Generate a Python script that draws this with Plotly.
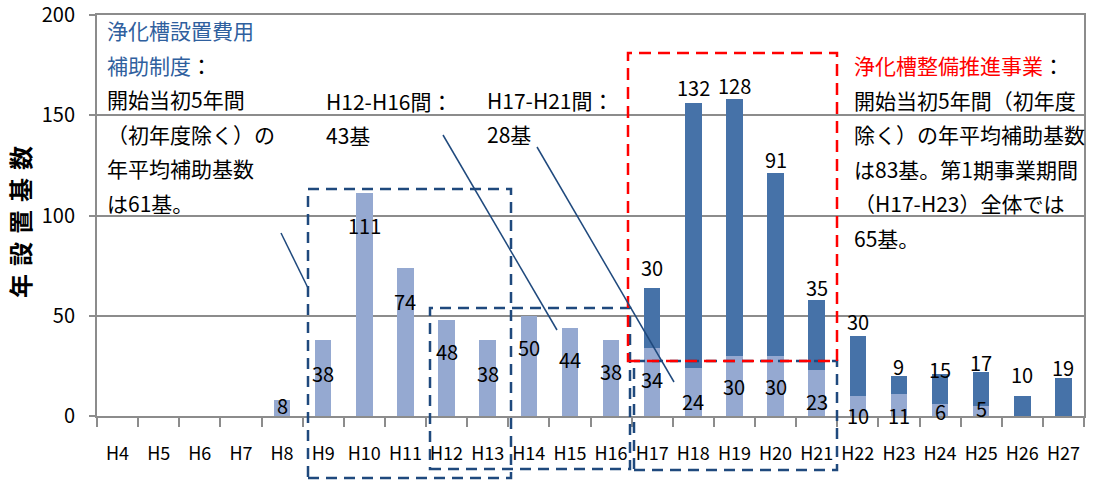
import plotly.graph_objects as go

# ---------------- data ----------------
years = ["H4", "H5", "H6", "H7", "H8", "H9", "H10", "H11", "H12", "H13", "H14", "H15",
         "H16", "H17", "H18", "H19", "H20", "H21", "H22", "H23", "H24", "H25", "H26", "H27"]
# 浄化槽設置費用補助制度 (light)
old_program = [None, None, None, None, 8, 38, 111, 74, 48, 38, 50, 44,
               38, 34, 24, 30, 30, 23, 10, 11, 6, 5, None, None]
# 浄化槽整備推進事業 (dark)
new_program = [None, None, None, None, None, None, None, None, None, None, None, None,
               None, 30, 132, 128, 91, 35, 30, 9, 15, 17, 10, 19]

# label placements (data units, as hand-placed in the original)
old_label_pos = [None, None, None, None, 5, 21.4, 95, 57, 32, 21.4, 34, 28,
                 22, 18, 7, 14.5, 14.5, 7, 0.5, 0.5, 2, 3.5, None, None]
new_label_pos = [None, None, None, None, None, None, None, None, None, None, None, None,
                 None, 74, 164, 165, 128, 64, 47, 24.5, 23, 26.5, 20.5, 24]
y_ticks = [0, 50, 100, 150, 200]

LIGHT = "#95A9D1"
DARK = "#4672A8"
NAVY = "#1F497D"
RED = "#FF0000"
BLUE_TXT = "#2F609E"
GRID = "#8C8C8C"
FONT = "Noto Sans CJK JP, sans-serif"

# plot area in pixels (used only for placing decorations)
L, R, T, B = 97, 1084, 15, 416
def px(x):
    return (x - L) / (R - L)
def py(y):
    return (B - y) / (B - T)

fig = go.Figure()
fig.add_trace(go.Bar(x=years, y=old_program, marker=dict(color=LIGHT, line=dict(width=0)),
                     name="補助制度", hoverinfo="x+y"))
fig.add_trace(go.Bar(x=years, y=new_program, marker=dict(color=DARK, line=dict(width=0)),
                     name="推進事業", hoverinfo="x+y"))

annotations = []
for cat, v, p in zip(years, old_program, old_label_pos):
    if v is not None:
        annotations.append(dict(x=cat, y=p, xref="x", yref="y", text=str(v), showarrow=False,
                                font=dict(size=20, color="black", family=FONT)))
for cat, v, p in zip(years, new_program, new_label_pos):
    if v is not None:
        annotations.append(dict(x=cat, y=p, xref="x", yref="y", text=str(v), showarrow=False,
                                font=dict(size=20, color="black", family=FONT)))

def txt(x, y, s, size=21, color="black"):
    annotations.append(dict(x=px(x), y=py(y), xref="paper", yref="paper", text=s,
                            showarrow=False, xanchor="left", yanchor="middle",
                            font=dict(size=size, color=color, family=FONT)))

# left block
left_lines = [
    f'<span style="color:{BLUE_TXT}">浄化槽設置費用</span>',
    f'<span style="color:{BLUE_TXT}">補助制度</span>：',
    "開始当初5年間",
    "（初年度除く）の",
    "年平均補助基数",
    "は61基。",
]
for i, s in enumerate(left_lines):
    txt(105, 30 + i * 34.5, s)

# middle blocks
txt(324, 101, "H12-H16間：")
txt(324, 135, "43基")
txt(485, 100, "H17-H21間：")
txt(485, 134, "28基")

# right block
right_lines = [
    f'<span style="color:{RED}">浄化槽整備推進事業</span>：',
    "開始当初5年間（初年度",
    "除く）の年平均補助基数",
    "は83基。第1期事業期間",
    "（H17-H23）全体では",
    "65基。",
]
for i, s in enumerate(right_lines):
    txt(852, 65 + i * 34.5, s)

# y-axis title
annotations.append(dict(x=px(20), y=py(222), xref="paper", yref="paper",
                        text="<b>年\u2004設\u2004置\u2004基\u2004数</b>", textangle=-90,
                        showarrow=False, xanchor="center", yanchor="middle",
                        font=dict(size=24, color="black", family=FONT)))

shapes = []
def rect(x0, y0, x1, y1, color, dash):
    shapes.append(dict(type="rect", xref="paper", yref="paper",
                       x0=px(x0), y0=py(y1), x1=px(x1), y1=py(y0),
                       line=dict(color=color, width=2.5, dash=dash), fillcolor="rgba(0,0,0,0)"))
def seg(x0, y0, x1, y1):
    shapes.append(dict(type="line", xref="paper", yref="paper",
                       x0=px(x0), y0=py(y0), x1=px(x1), y1=py(y1),
                       line=dict(color=NAVY, width=1.5)))

rect(308, 189, 511, 478, NAVY, "11px,7px")
rect(430, 308, 630, 469, NAVY, "11px,7px")
rect(634, 361, 837, 470, NAVY, "11px,7px")
rect(628, 53, 837, 361, RED, "12px,7px")
seg(281, 233, 308, 288)
seg(443, 135, 557, 330)
seg(537, 147, 674, 382)

fig.update_layout(
    width=1095, height=484,
    margin=dict(l=L, r=1095 - R, t=T, b=484 - B, autoexpand=False),
    barmode="stack", bargap=0.6,
    plot_bgcolor="white", paper_bgcolor="white",
    showlegend=False,
    font=dict(family=FONT, color="black"),
    annotations=annotations, shapes=shapes,
    xaxis=dict(type="category", categoryorder="array", categoryarray=years,
               tickson="boundaries", ticks="outside", ticklen=9, tickcolor=GRID, tickwidth=1.5,
               showline=True, linecolor=GRID, linewidth=2, showgrid=False, mirror=True,
               tickangle=0, automargin=False,
               tickfont=dict(size=18, family=FONT, color="black"), ticklabelstandoff=20),
    yaxis=dict(range=[0, 200], tickmode="array", tickvals=y_ticks,
               ticktext=[f"{t}\u2002" for t in y_ticks], ticklabeloverflow="allow",
               ticks="outside", ticklen=6, tickcolor=GRID, tickwidth=1.5,
               showline=True, linecolor=GRID, linewidth=2, mirror=True, automargin=False,
               showgrid=True, gridcolor=GRID, gridwidth=2, zeroline=False,
               tickfont=dict(size=20, family=FONT, color="black")),
)

fig.write_html("out.html", config={"displayModeBar": False},
               post_script="document.body.style.margin='0';")
